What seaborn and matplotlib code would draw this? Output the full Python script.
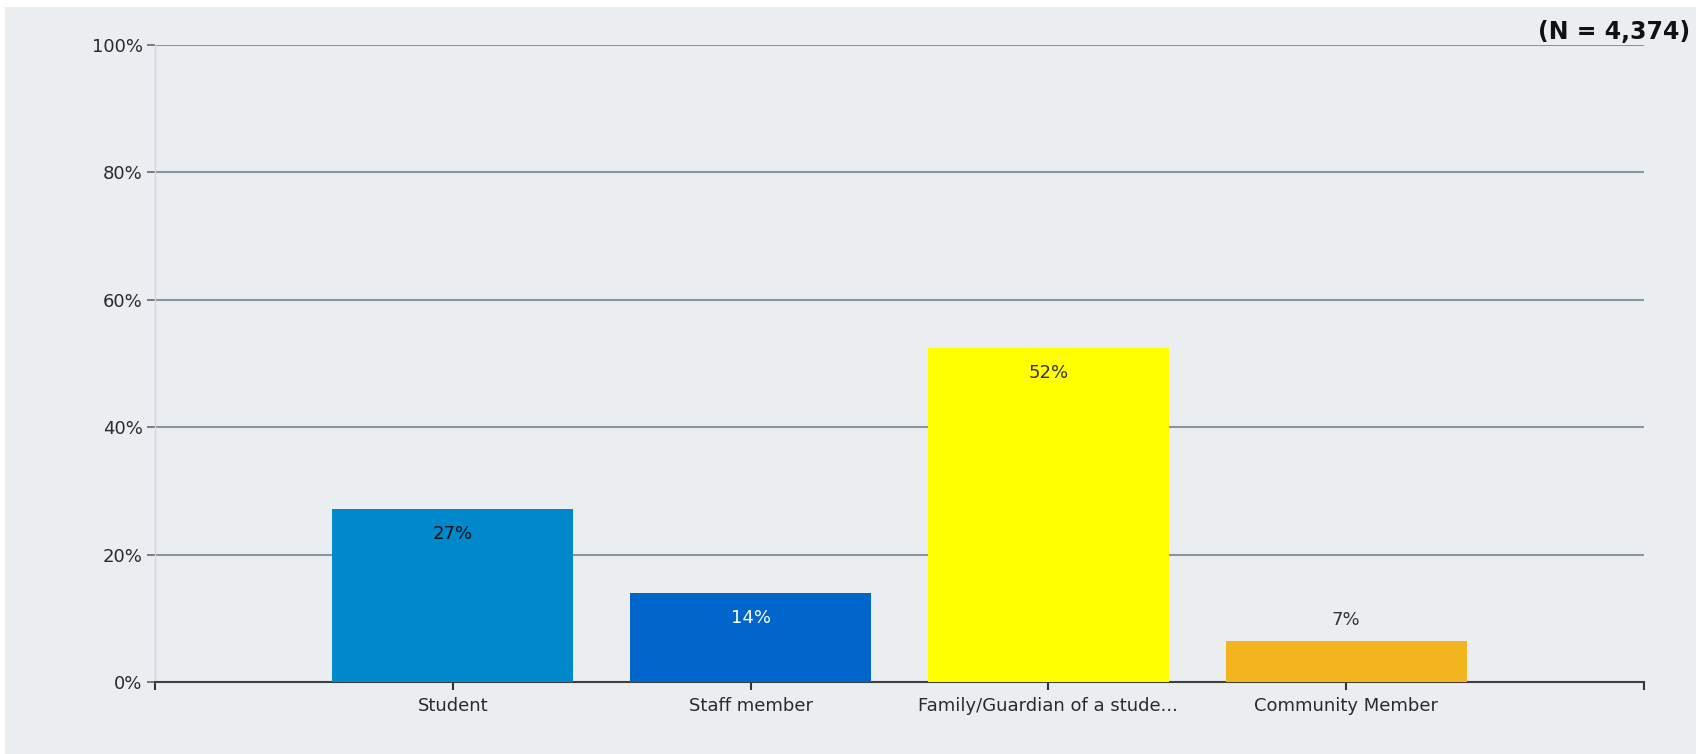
import matplotlib
matplotlib.use("Agg")
import matplotlib.pyplot as plt
import seaborn as sns
import pandas as pd
from matplotlib.patches import Rectangle

# values
categories = ["Student", "Staff member", "Family/Guardian of a stude...", "Community Member"]
percent = [27.2, 13.9, 52.4, 6.5]
labels = ["27%", "14%", "52%", "7%"]
bar_colors = ["#0088CC", "#0066CC", "#FFFF00", "#F2B51E"]
label_colors = ["#111111", "#FFFFFF", "#333333", "#333333"]
label_inside = [True, True, True, False]
yticks = [0, 20, 40, 60, 80, 100]
n_text = "(N = 4,374)"

df = pd.DataFrame({"category": categories, "percent": percent})

sns.set_style("white")
plt.rcParams["font.family"] = ["DejaVu Sans"]

bg = "#EBEEF1"
fig = plt.figure(figsize=(16.96, 7.54), dpi=100, facecolor="white")
fig.patches.append(Rectangle((5 / 1696, 0), 1, 747 / 754, transform=fig.transFigure,
                             facecolor=bg, edgecolor="none", zorder=-10))
ax = fig.add_axes([155 / 1696, 72 / 754, 1489 / 1696, 637 / 754])
ax.set_facecolor(bg)

sns.barplot(data=df, x="category", y="percent", hue="category", palette=bar_colors,
            width=0.81, saturation=1, legend=False, linewidth=0, ax=ax, zorder=3)

ax.set_xlim(-1, 4)
ax.set_ylim(0, 100)
ax.set_yticks(yticks)
ax.set_yticklabels([f"{t}%" for t in yticks])
ax.set_xlabel("")
ax.set_ylabel("")

for t in yticks[1:]:
    ax.axhline(t, color="#8797A1", lw=1.5, zorder=1)

for i, (v, lab) in enumerate(zip(percent, labels)):
    if label_inside[i]:
        ax.annotate(lab, (i, v), xytext=(0, -18), textcoords="offset points",
                    ha="center", va="center", fontsize=13, color=label_colors[i], zorder=5)
    else:
        ax.annotate(lab, (i, v), xytext=(0, 15), textcoords="offset points",
                    ha="center", va="center", fontsize=13, color=label_colors[i], zorder=5)

for s in ["top", "right"]:
    ax.spines[s].set_visible(False)
ax.spines["left"].set_color("#CFD8E2")
ax.spines["left"].set_linewidth(1)
ax.spines["bottom"].set_color("#404040")
ax.spines["bottom"].set_linewidth(1.5)

ax.tick_params(axis="y", which="both", left=True, length=6, width=1.2, color="#666666",
               labelsize=13, labelcolor="#2A2A2A", pad=3)
ax.tick_params(axis="x", which="major", bottom=True, length=6, width=1.5, color="#333333",
               labelsize=13, labelcolor="#2A2A2A", pad=5)
ax.set_xticks([-1, 4], minor=True)
ax.tick_params(axis="x", which="minor", bottom=True, length=6, width=1.5, color="#333333")

fig.text(1690 / 1696, 1 - 32 / 754, n_text, ha="right", va="center",
         fontsize=17, fontweight="bold", color="#111111")

fig.savefig("out.png", dpi=100, facecolor=fig.get_facecolor())
